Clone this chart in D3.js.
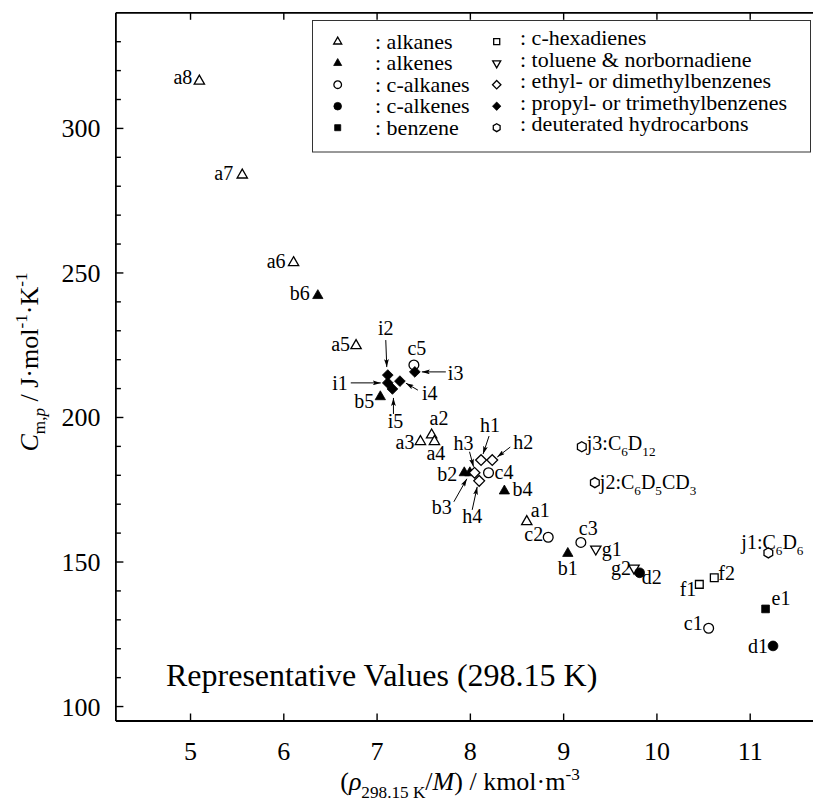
<!DOCTYPE html>
<html>
<head>
<meta charset="utf-8">
<script src="https://cdn.jsdelivr.net/npm/d3@7"></script>
<style>
  html, body { margin: 0; padding: 0; background: #fff; }
  svg { display: block; font-family: "Liberation Serif", "Times New Roman", serif; }
</style>
</head>
<body>
<svg id="chart" width="813" height="802"></svg>
<script>
// ---- data -------------------------------------------------------------
const compounds = ["a1","a2","a3","a4","a5","a6","a7","a8",
                   "b1","b2","b3","b4","b5","b6",
                   "c1","c2","c3","c4","c5",
                   "d1","d2","e1","f1","f2","g1","g2",
                   "h1","h2","h3","h4",
                   "i1","i2","i3","i4","i5",
                   "j1","j2","j3"];
// molar density at 298.15 K, kmol·m^-3
const molarDensity = [8.61, 7.59, 7.47, 7.62, 6.78, 6.11, 5.56, 5.10,
                      9.05, 7.94, 8.00, 8.37, 7.04, 6.37,
                      10.56, 8.84, 9.19, 8.20, 7.40,
                      11.25, 9.82, 11.17, 10.46, 10.62, 9.35, 9.76,
                      8.12, 8.24, 8.05, 8.10,
                      7.12, 7.12, 7.41, 7.25, 7.17,
                      11.20, 9.34, 9.20];
// molar isobaric heat capacity, J·mol^-1·K^-1
const heatCapacity = [163.8, 193.8, 191.5, 191.5, 224.7, 253.4, 283.7, 316.2,
                      152.8, 180.7, 180.7, 174.4, 207.0, 242.0,
                      126.9, 158.4, 156.6, 180.7, 218.0,
                      120.8, 146.1, 133.6, 142.1, 144.4, 154.3, 147.7,
                      185.1, 185.1, 180.7, 177.9,
                      211.8, 214.5, 215.6, 212.4, 209.7,
                      153.0, 177.3, 189.7];
// deuterated compounds carry their formula in the label ({} = subscript)
const formulaLabels = { j1: "j1:C{6}D{6}", j2: "j2:C{6}D{5}CD{3}", j3: "j3:C{6}D{12}" };

const familyCodes = ["a","b","c","d","e","f","g","h","i","j"];
const familyNames = ["alkanes","alkenes","c-alkanes","c-alkenes","benzene",
                     "c-hexadienes","toluene & norbornadiene","ethyl- or dimethylbenzenes",
                     "propyl- or trimethylbenzenes","deuterated hydrocarbons"];

const xTickValues = [5, 6, 7, 8, 9, 10, 11];
const yMajorTicks = [100, 150, 200, 250, 300];
const yMinorTicks = [110, 120, 130, 140, 160, 170, 180, 190, 210, 220, 230, 240,
                     260, 270, 280, 290, 310, 320, 330];

// ---- styling / layout ---------------------------------------------------
const familyMarker = {
  a: { shape: "triangle",  filled: false },
  b: { shape: "triangle",  filled: true  },
  c: { shape: "circle",    filled: false },
  d: { shape: "circle",    filled: true  },
  e: { shape: "square",    filled: true  },
  f: { shape: "square",    filled: false },
  g: { shape: "triangleDown", filled: false },
  h: { shape: "diamond",   filled: false },
  i: { shape: "diamond",   filled: true  },
  j: { shape: "hexagon",   filled: false }
};
const drawOrder = ["a","b","c","e","f","g","d","h","i","j"];

// label offsets from the marker centre: [dx, dy(baseline), anchor]
const labelPlacement = {
  a1: [4, -5, "start"],  a2: [-2, -10, "start"], a3: [-6, 7, "end"],   a4: [-8, 18, "start"],
  a5: [-6, 5, "end"],    a6: [-8, 5, "end"],     a7: [-9, 5, "end"],   a8: [-7, 3, "end"],
  b1: [0, 22, "middle"], b2: [-7, 8, "end"],     b3: [-28, 41, "middle"], b4: [8, 5, "start"],
  b5: [-6, 11, "end"],   b6: [-8, 4, "end"],
  c1: [-6, 2, "end"],    c2: [-5, 4, "end"],     c3: [-2, -7, "start"], c4: [6, 6, "start"],
  c5: [3, -10, "middle"],
  d1: [-5, 7, "end"],    d2: [2, 11, "start"],   e1: [6, -4, "start"],
  f1: [-3, 12, "end"],   f2: [4, 2, "start"],
  g1: [6, 7, "start"],   g2: [-3, 7, "end"],
  h1: [9, -28, "middle"], h2: [21, -11, "start"], h3: [-11, -23, "middle"], h4: [-7, 42, "middle"],
  i1: [-40, 7, "end"],   i2: [-2, -40, "middle"], i3: [33, 8, "start"], i4: [22, 19, "start"],
  i5: [3, 39, "middle"],
  j1: [-27, -4, "start"], j2: [5, 6, "start"],   j3: [5, 3, "start"]
};
// leader arrows from label towards the marker: [[fromDx, fromDy], [toDx, toDy]]
const arrowLeaders = {
  i1: [[-37, 0], [-7, 0]],
  i2: [[-2, -35], [-1, -8]],
  i3: [[31, 0], [7, 0]],
  i4: [[18, 9], [6, 2]],
  i5: [[1, 25], [1, 9]],
  h1: [[8, -24], [2, -6]],
  h2: [[18, -13], [5, -3]],
  h3: [[-5, -21], [-1, -6]],
  h4: [[-7, 29], [-2, 6]],
  b3: [[-16, 29], [-3, 6]]
};

// ---- chart --------------------------------------------------------------
const svg = d3.select("#chart");
const x = d3.scaleLinear().domain([4.2, 11.7]).range([115.4, 815]);
const y = d3.scaleLinear().domain([95, 340]).range([720.5, 12.3]);

const hexagon = {
  draw(ctx, size) {
    const r = Math.sqrt(size / (1.5 * Math.sqrt(3)));
    for (let k = 0; k < 6; k++) {
      const a = -Math.PI / 2 + k * Math.PI / 3;
      const px = r * Math.cos(a), py = r * Math.sin(a);
      k ? ctx.lineTo(px, py) : ctx.moveTo(px, py);
    }
    ctx.closePath();
  }
};
const diamond = {
  draw(ctx, size) {
    const r = Math.sqrt(size / 2);
    ctx.moveTo(0, -r); ctx.lineTo(r, 0); ctx.lineTo(0, r); ctx.lineTo(-r, 0); ctx.closePath();
  }
};
const symbolDefs = {
  triangle:     { type: d3.symbolTriangle, size: 46, rotate: 0 },
  triangleDown: { type: d3.symbolTriangle, size: 46, rotate: 180 },
  circle:       { type: d3.symbolCircle,   size: 75, rotate: 0 },
  square:       { type: d3.symbolSquare,   size: 60, rotate: 0 },
  diamond:      { type: diamond,           size: 58, rotate: 0 },
  hexagon:      { type: hexagon,           size: 66, rotate: 0 }
};
function markerPath(shape, scale) {
  const def = symbolDefs[shape];
  return d3.symbol().type(def.type).size(def.size * scale * scale)();
}
function drawMarker(g, family, cx, cy, scale) {
  const m = familyMarker[family];
  const def = symbolDefs[m.shape];
  g.append("path")
    .attr("d", markerPath(m.shape, scale))
    .attr("transform", `translate(${cx},${cy}) rotate(${def.rotate})`)
    .attr("fill", m.filled ? "#000" : "#fff")
    .attr("stroke", "#000")
    .attr("stroke-width", m.filled ? 0.8 : 1.3)
    .attr("stroke-linejoin", "miter");
}

// text with sub/superscript segments
function appendRich(textSel, segments, fs) {
  let shift = 0;
  segments.forEach(s => {
    const target = s.sub ? 0.3 * fs : (s.sup ? -0.4 * fs : 0);
    const ts = textSel.append("tspan").text(s.t);
    if (target - shift !== 0) ts.attr("dy", target - shift);
    shift = target;
    if (s.sub || s.sup) ts.attr("font-size", (fs * 0.66).toFixed(1));
    if (s.it) ts.attr("font-style", "italic");
  });
}
function parseLabel(str) {
  const segs = [];
  str.split(/(\{[^}]*\})/).forEach(p => {
    if (!p) return;
    if (p[0] === "{") segs.push({ t: p.slice(1, -1), sub: true });
    else segs.push({ t: p });
  });
  return segs;
}

// arrowhead
svg.append("defs").append("marker")
  .attr("id", "arrowhead")
  .attr("viewBox", "0 0 10 6")
  .attr("refX", 10).attr("refY", 3)
  .attr("markerWidth", 8).attr("markerHeight", 4.8)
  .attr("markerUnits", "userSpaceOnUse")
  .attr("orient", "auto")
  .append("path").attr("d", "M0,0 L10,3 L0,6 L2,3 Z").attr("fill", "#000");

// axes
const axisFont = 26;
const gBottom = svg.append("g").attr("transform", `translate(0,${y.range()[0]})`)
  .call(d3.axisBottom(x).tickValues(xTickValues).tickSize(-7).tickSizeOuter(0).tickFormat(d3.format("d")));
gBottom.selectAll("text").attr("y", 39.5).attr("dy", null);

const gTop = svg.append("g").attr("transform", `translate(0,${y.range()[1]})`)
  .call(d3.axisTop(x).tickValues(xTickValues).tickSize(-7.5).tickSizeOuter(0).tickFormat(""));

const gLeft = svg.append("g").attr("transform", `translate(${x.range()[0]},0)`)
  .call(d3.axisLeft(y).tickValues(yMajorTicks).tickSize(-8).tickSizeOuter(0).tickPadding(15));
gLeft.selectAll("text").attr("dy", null).attr("y", 9);

const gMinor = svg.append("g").attr("transform", `translate(${x.range()[0]},0)`)
  .call(d3.axisLeft(y).tickValues(yMinorTicks).tickSize(-5.5).tickSizeOuter(0).tickFormat(""));
gMinor.select(".domain").remove();

[gBottom, gTop, gLeft, gMinor].forEach(g => {
  g.attr("font-family", null).attr("font-size", axisFont);
  g.selectAll("text").attr("fill", "#000");
  g.select(".domain").attr("stroke", "#000").attr("stroke-width", 1.8);
  g.selectAll(".tick line").attr("stroke", "#000").attr("stroke-width", 1.4);
});

// axis titles
const xTitle = svg.append("text").attr("x", 460).attr("y", 790)
  .attr("text-anchor", "middle").attr("font-size", 26);
appendRich(xTitle, [
  { t: "(" }, { t: "ρ", it: true }, { t: "298.15 K", sub: true },
  { t: "/" }, { t: "M", it: true }, { t: ") / kmol·m" }, { t: "-3", sup: true }
], 26);

const yTitle = svg.append("text")
  .attr("transform", "translate(37.5,362) rotate(-90)")
  .attr("text-anchor", "middle").attr("font-size", 26);
appendRich(yTitle, [
  { t: "C", it: true }, { t: "m,", sub: true }, { t: "p", sub: true, it: true },
  { t: " / J·mol" }, { t: "-1", sup: true }, { t: "·K" }, { t: "-1", sup: true }
], 26);

// annotation
svg.append("text").attr("x", 166).attr("y", 686).attr("font-size", 32)
  .text("Representative Values (298.15 K)");

// points
const points = compounds.map((code, k) => ({
  code, family: code[0], px: x(molarDensity[k]), py: y(heatCapacity[k])
}));
const gPts = svg.append("g");
drawOrder.forEach(f => {
  points.filter(p => p.family === f).forEach(p => drawMarker(gPts, f, p.px, p.py, 1));
});

// leader arrows
const gArrows = svg.append("g");
points.filter(p => arrowLeaders[p.code]).forEach(p => {
  const [from, to] = arrowLeaders[p.code];
  gArrows.append("line")
    .attr("x1", p.px + from[0]).attr("y1", p.py + from[1])
    .attr("x2", p.px + to[0]).attr("y2", p.py + to[1])
    .attr("stroke", "#000").attr("stroke-width", 1)
    .attr("marker-end", "url(#arrowhead)");
});

// point labels
const gLabels = svg.append("g").attr("font-size", 20);
points.forEach(p => {
  const [dx, dy, anchor] = labelPlacement[p.code];
  const t = gLabels.append("text")
    .attr("x", p.px + dx).attr("y", p.py + dy).attr("text-anchor", anchor);
  appendRich(t, parseLabel(formulaLabels[p.code] || p.code), 20);
});

// legend
const legend = svg.append("g");
legend.append("rect")
  .attr("x", 312.5).attr("y", 20.5).attr("width", 498).attr("height", 131.5)
  .attr("fill", "#fff").attr("stroke", "#333").attr("stroke-width", 1);
const legendCols = [
  { symX: 337.7, textX: 375, textDy: 7 },
  { symX: 496.7, textX: 520, textDy: 3.5 }
];
familyCodes.forEach((f, k) => {
  const col = legendCols[Math.floor(k / 5)];
  const row = k % 5;
  const sy = 41.7 + row * 21.5;
  drawMarker(legend, f, col.symX, sy, 0.78);
  legend.append("text").attr("x", col.textX).attr("y", sy + col.textDy)
    .attr("font-size", 22).text(": " + familyNames[k]);
});
</script>
</body>
</html>
